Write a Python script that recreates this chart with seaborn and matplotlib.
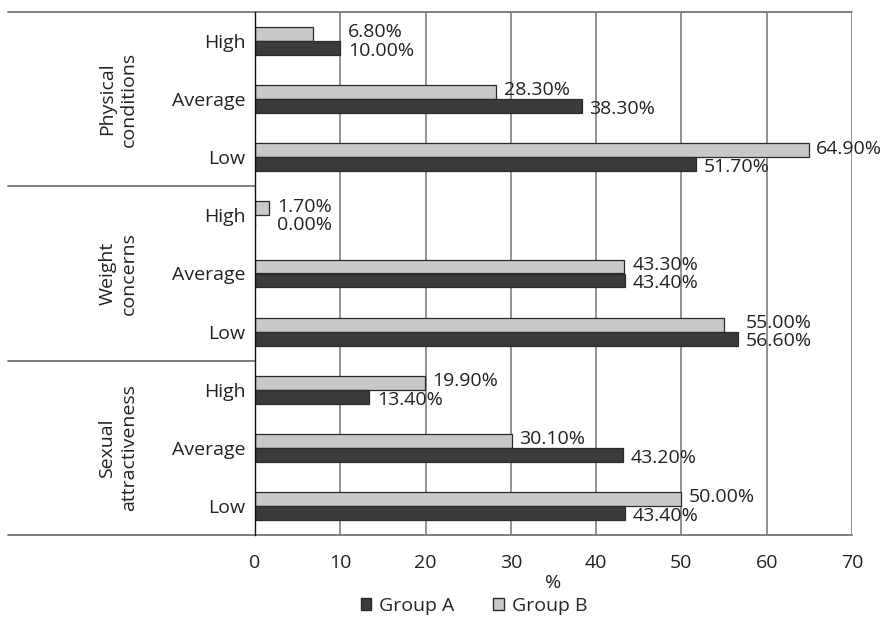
import matplotlib
matplotlib.use("Agg")
import matplotlib.pyplot as plt
from matplotlib.patches import Patch
import seaborn as sns
import pandas as pd

# Survey dimensions and self-assessment levels (top to bottom)
dimensions = ["Physical conditions", "Weight concerns", "Sexual attractiveness"]
dimension_titles = ["Physical\nconditions", "Weight\nconcerns", "Sexual\nattractiveness"]
levels = ["High", "Average", "Low"]

# Percentages per dimension/level, in the same order
group_a = [10.0, 38.3, 51.7, 0.0, 43.4, 56.6, 13.4, 43.2, 43.4]
group_b = [6.8, 28.3, 64.9, 1.7, 43.3, 55.0, 19.9, 30.1, 50.0]

x_ticks = [0, 10, 20, 30, 40, 50, 60, 70]

rows = []
keys = []
for i, dim in enumerate(dimensions):
    for j, lvl in enumerate(levels):
        k = i * 3 + j
        key = f"{dim}|{lvl}"
        keys.append(key)
        rows.append({"row": key, "Group": "Group B", "value": group_b[k]})
        rows.append({"row": key, "Group": "Group A", "value": group_a[k]})
df = pd.DataFrame(rows)

sns.set_theme(style="white")
plt.rcParams["font.family"] = ["Open Sans", "DejaVu Sans"]
FS = 14

dark = "#3b3b3b"
light = "#c8c8c8"
line_grey = "#7f7f7f"
text_col = "#222222"

fig = plt.figure(figsize=(8.86, 6.22), dpi=100)
ax = fig.add_axes([255 / 886, 1 - 535 / 622, (852 - 255) / 886, (535 - 12) / 622])

sns.barplot(data=df, y="row", x="value", hue="Group", order=keys,
            hue_order=["Group B", "Group A"],
            palette={"Group A": dark, "Group B": light},
            orient="h", width=0.48, edgecolor="#2a2a2a", linewidth=0.9,
            legend=False, ax=ax, zorder=3)

ax.set_xlim(0, 70)
ax.set_ylim(8.5, -0.5)
ax.set_xticks(x_ticks)
ax.set_xticklabels([str(t) for t in x_ticks], fontsize=FS, color=text_col)
ax.set_yticks(range(len(keys)))
ax.set_yticklabels([k.split("|")[1] for k in keys], fontsize=FS, color=text_col)
ax.tick_params(axis="x", length=0, pad=14)
ax.tick_params(axis="y", length=0, pad=7)
ax.set_xlabel("%", fontsize=FS, labelpad=1, color=text_col)
ax.set_ylabel("")

# Vertical gridlines
for t in x_ticks[1:]:
    ax.axvline(t, color=line_grey, linewidth=1.2, zorder=1)

for side in ["top", "bottom", "right"]:
    ax.spines[side].set_visible(False)
ax.spines["left"].set_color("#111111")
ax.spines["left"].set_linewidth(1.0)
ax.spines["left"].set_zorder(5)

# Horizontal rules separating dimensions, extending into the label area
x_left = (8 - 255) / (852 - 255)
for yb in [-0.5, 2.5, 5.5, 8.5]:
    xmax = 1.0 if yb in (-0.5, 8.5) else 0.0
    ax.axhline(yb, xmin=x_left, xmax=xmax, color=line_grey, linewidth=1.4,
               clip_on=False, zorder=4)

# Dimension titles
for i, title in enumerate(dimension_titles):
    ax.text((118 - 255) / (852 - 255), i * 3 + 1, title,
            transform=ax.get_yaxis_transform(), rotation=90,
            ha="center", va="center", fontsize=FS, linespacing=1.25,
            color=text_col)

# Value labels next to the bars
for k in range(len(keys)):
    a, b = group_a[k], group_b[k]
    if abs(a - b) < 4:
        xa = xb = max(a, b) + 0.9
    else:
        xa, xb = a + 0.9, b + 0.9
    ax.text(xb, k - 0.15, f"{b:.2f}%", ha="left", va="center", fontsize=FS,
            color=text_col, zorder=6)
    ax.text(xa, k + 0.17, f"{a:.2f}%", ha="left", va="center", fontsize=FS,
            color=text_col, zorder=6)

handles = [Patch(facecolor=dark, edgecolor="#2a2a2a", label="Group A"),
           Patch(facecolor=light, edgecolor="#2a2a2a", label="Group B")]
fig.legend(handles=handles, loc="center", bbox_to_anchor=(0.535, 0.026), ncol=2,
           frameon=False, fontsize=FS, handlelength=0.55, handleheight=0.55,
           handletextpad=0.4, columnspacing=2.0)

fig.savefig("out.png", dpi=100, facecolor="white")
